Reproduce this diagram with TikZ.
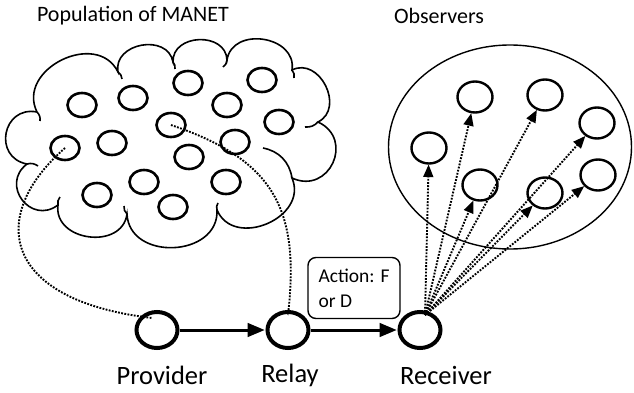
\documentclass[tikz,border=0pt]{standalone}
\usepackage{fontspec}
\setmainfont{Carlito}
\usetikzlibrary{arrows,shapes.geometric,calc}

\tikzset{
  member/.style={draw,ellipse,line width=2.6pt,minimum width=29pt,minimum height=24pt,inner sep=0pt},
  watcher/.style={draw,ellipse,line width=2.4pt,minimum width=35pt,minimum height=31pt,inner sep=0pt},
  agent/.style={draw,ellipse,line width=4pt,minimum width=41pt,minimum height=36pt,inner sep=0pt},
  hop/.style={->,>=triangle 45,line width=3pt,shorten >=1pt},
  trace/.style={line width=1.9pt,dash pattern=on 1.8pt off 1.4pt},
  look/.style={trace,->,>=triangle 45},
  puff/.style={bend left=90,looseness=1.35},
  bigpuff/.style={bend left=90,looseness=1.7},
  curl/.style={bend left=25},
  caption/.style={font=\fontsize{26.5}{28}\selectfont},
  heading/.style={font=\fontsize{22}{24}\selectfont}
}

\begin{document}
\begin{tikzpicture}[x=1pt,y=-1pt]
    \useasboundingbox (0,0) rectangle (634,393);
    % titles
    \node[heading] (poptitle) at (133,16) {Population of MANET};
    \node[heading] (obstitle) at (439,16) {Observers};
    % the cloud
    \draw[line width=1.6pt] (37,112) to[puff] (118,72) to[puff] (173,62) to[puff] (227,60)
        to[puff] (292,70) to[puff] (318,122) to[bigpuff] (292,178) to[puff] (217,210)
        to[puff] (127,214) to[puff] (58,205) to[bigpuff] (27,164) to[bigpuff] (37,112);
    \draw[line width=1.6pt] (118,72) to[curl] (122,79)  (173,62) to[curl] (175,69)
        (227,60) to[curl] (223,67)  (292,70) to[curl] (294,78)  (318,122) to[curl] (305,127)
        (263,148) to[bend left=35] (292,178)  (217,210) to[curl] (218,203)
        (127,214) to[curl] (124,206)  (58,205) to[curl] (60,197)  (27,164) to[curl] (38,166)
        (37,112) to[curl] (40,121);
    % members of the cloud
    \node[member] (m1) at (82,105) {};
    \node[member] (m2) at (133,98) {};
    \node[member] (m3) at (188,83) {};
    \node[member] (m4) at (262,80) {};
    \node[member] (m5) at (227,105) {};
    \node[member] (m6) at (279,122) {};
    \node[member] (m7) at (171,125) {};
    \node[member] (m8) at (65,148) {};
    \node[member] (m9) at (112,143) {};
    \node[member] (m10) at (235,142) {};
    \node[member] (m11) at (189,157) {};
    \node[member] (m12) at (144,182) {};
    \node[member] (m13) at (226,182) {};
    \node[member] (m14) at (97,195) {};
    \node[member] (m15) at (173,207) {};
    % observers
    \node[draw,ellipse,line width=1.4pt,minimum width=243pt,minimum height=204pt] (obs) at (510,147) {};
    \node[watcher] (o1) at (475,97) {};
    \node[watcher] (o2) at (545,95) {};
    \node[watcher] (o3) at (597,123) {};
    \node[watcher] (o4) at (429,148) {};
    \node[watcher] (o5) at (480,185) {};
    \node[watcher] (o6) at (545,193) {};
    \node[watcher] (o7) at (598,175) {};
    % the three agents
    \node[agent] (prov) at (157,330) {};
    \node[agent] (relay) at (288,330) {};
    \node[agent] (rec) at (420,330) {};
    \node[caption] (provlbl) at (162,375) {Provider};
    \node[caption] (relaylbl) at (290,375) {Relay};
    \node[caption] (reclbl) at (446,375) {Receiver};
    \node[draw,rounded corners=8pt,line width=1.4pt,minimum width=92pt,minimum height=61pt,
          align=left,font=\fontsize{19.5}{25}\selectfont,inner sep=3pt] (action) at (354,288)
          {Action: F\\or D};
    \draw[hop] (prov) -- (relay);
    \draw[hop] (relay) -- (rec);
    % who they are
    \coordinate (provin) at ($(prov.center)+(-5,-12)$);
    \coordinate (relayin) at ($(relay.center)+(0,-15)$);
    \coordinate (src) at ($(rec.center)+(5,-15)$);
    \draw[trace] (m8.center) .. controls (-12,215) and (0,300) .. (provin);
    \draw[trace] (m7.center) .. controls (275,160) and (300,210) .. (relayin);
    % watching the receiver
    \foreach \o in {o1,o2,o3,o4,o5,o6,o7}
        \draw[look] (src) -- (\o);
\end{tikzpicture}
\end{document}
